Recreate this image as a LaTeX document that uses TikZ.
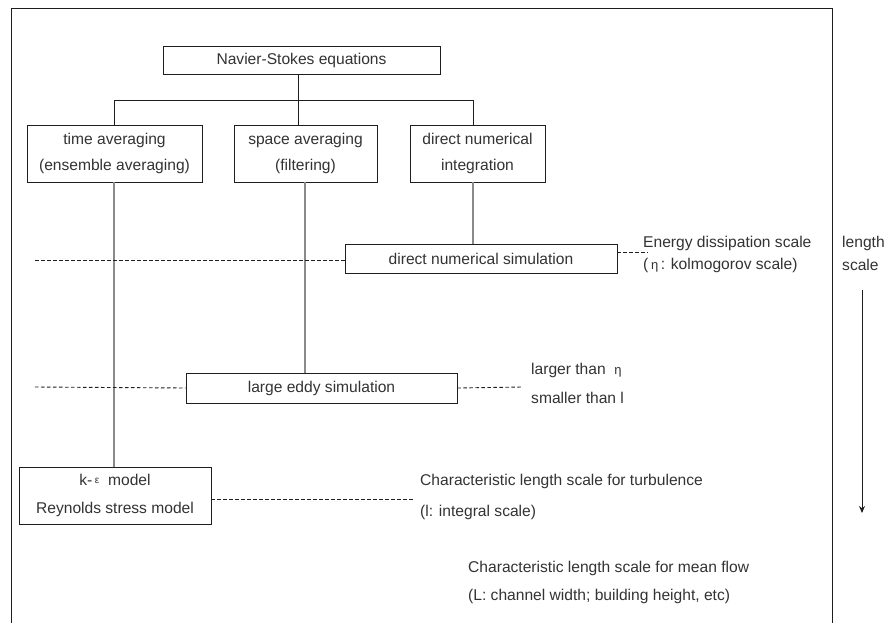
\documentclass[tikz,border=0pt]{standalone}
\usepackage{fontspec}
\setmainfont{Liberation Sans}
\usetikzlibrary{arrows.meta}
\definecolor{txt}{HTML}{333333}
\definecolor{edge}{HTML}{1E1E1E}
\definecolor{conn}{HTML}{8A8A8A}
\begin{document}
\begin{tikzpicture}[x=1pt,y=-1pt,
  box/.style={draw=edge,line width=0.9pt,inner sep=0pt,align=center,text=txt,
    font=\fontsize{15.6}{26}\selectfont},
  lbl/.style={anchor=west,inner sep=0pt,text=txt,font=\fontsize{15.6}{18}\selectfont},
  tree/.style={draw=edge,line width=0.9pt},
  drop/.style={draw=conn,line width=1.3pt},
  scaleline/.style={draw=edge,line width=0.9pt,dash pattern=on 3.5pt off 2.5pt}]
\useasboundingbox (0,0) rectangle (885,623);
\fill[white] (0,0) rectangle (885,623);
% outer frame
\draw[edge,line width=0.9pt] (11,623) -- (11,8) -- (832,8) -- (832,623);
% nodes
\node[box,minimum width=277pt,minimum height=28pt] (ns) at (301.5,60) {Navier-Stokes equations};
\node[box,minimum width=175pt,minimum height=57pt] (ta) at (114.5,153.5) {time averaging\\(ensemble averaging)};
\node[box,minimum width=143pt,minimum height=57pt] (sa) at (305.5,153.5) {space averaging\\(filtering)};
\node[box,minimum width=135pt,minimum height=57pt] (dni) at (477.5,153.5) {direct numerical\\integration};
\node[box,minimum width=272pt,minimum height=29pt] (dns) at (481,258.5) {direct numerical simulation};
\node[box,minimum width=271pt,minimum height=30pt] (les) at (321.5,388) {large eddy simulation};
\node[box,minimum width=192pt,minimum height=57pt,font=\fontsize{15.6}{28}\selectfont] (ke) at (115,495.5)
  {k-\,\raisebox{2pt}{\fontsize{10}{10}\selectfont ε}\ \ model\\Reynolds stress model};
% tree connectors
\coordinate (bar) at (298,100);
\coordinate (barl) at (114,100);
\coordinate (barr) at (473,100);
\draw[tree] (ns.south -| bar) -- (bar |- sa.north);
\draw[tree] (barl |- ta.north) -- (barl) -- (barr) -- (barr |- dni.north);
% drops
\coordinate (d1) at (114,0);
\coordinate (d2) at (305,0);
\coordinate (d3) at (473,0);
\draw[drop] (d1 |- ta.south) -- (d1 |- ke.north);
\draw[drop] (d2 |- sa.south) -- (d2 |- les.north);
\draw[drop] (d3 |- dni.south) -- (d3 |- dns.north);
% dashed scale lines
\coordinate (dl1) at (35,260);
\coordinate (dr1) at (648,252);
\coordinate (dl2) at (35,387);
\coordinate (dr2) at (522,387);
\coordinate (dr3) at (415,499);
\draw[scaleline] (dl1) -- (dl1 -| dns.west);
\draw[scaleline] (dr1 -| dns.east) -- (dr1);
\draw[scaleline] (dl2) -- (les.west);
\draw[scaleline] (les.east) -- (dr2);
\draw[scaleline] (dr3 -| ke.east) -- (dr3);
% labels
\node[lbl] (e1) at (643,243) {Energy dissipation scale};
\node[lbl] (e2) at (643,265) {(\,{\fontsize{13}{13}\selectfont η}\,: kolmogorov scale)};
\node[lbl] (ls1) at (842,243) {length};
\node[lbl] (ls2) at (842,265) {scale};
\coordinate (a1) at (862,290);
\coordinate (a2) at (862,513);
\draw[edge,line width=0.9pt,-{Stealth[length=7pt,width=6pt]}] (a1) -- (a2);
\node[lbl] (l1) at (531,370) {larger than \ {\fontsize{13}{13}\selectfont η}};
\node[lbl] (l2) at (531,398) {smaller than l};
\node[lbl] (c1) at (420,481) {Characteristic length scale for turbulence};
\node[lbl] (c2) at (420,512) {(l: integral scale)};
\node[lbl] (m1) at (468,568) {Characteristic length scale for mean flow};
\node[lbl] (m2) at (468,596) {(L: channel width; building height, etc)};
\end{tikzpicture}
\end{document}
